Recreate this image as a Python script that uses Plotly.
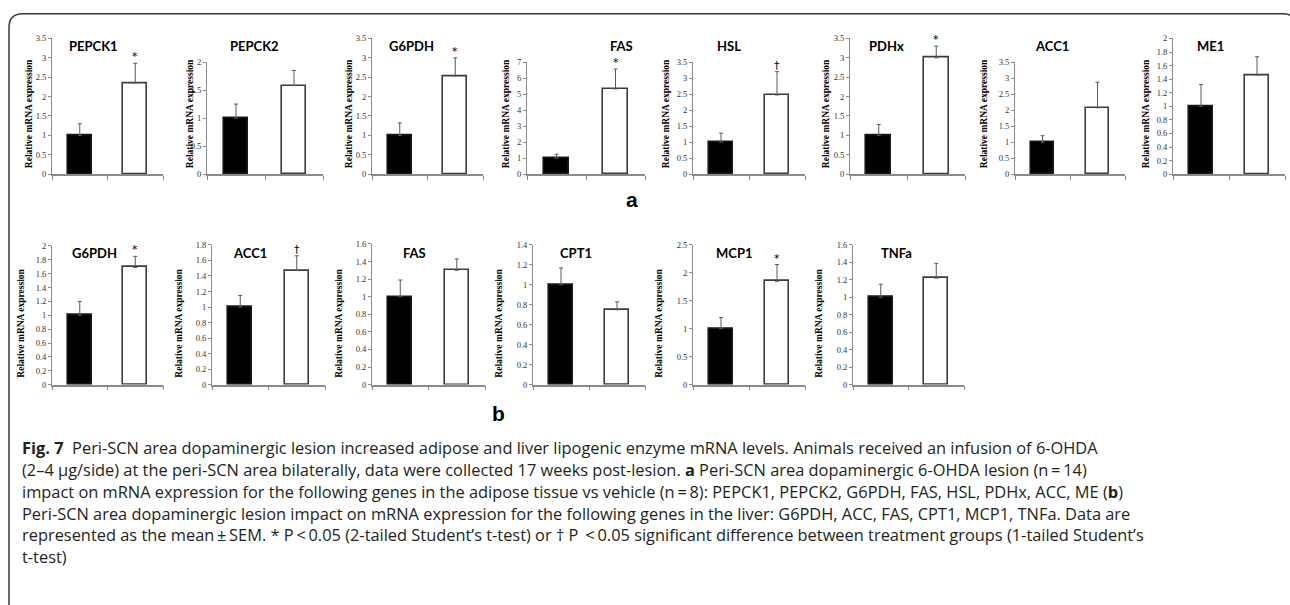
import plotly.graph_objects as go

W, H = 1290, 605

# ---------------- data ----------------
top_genes = ["PEPCK1", "PEPCK2", "G6PDH", "FAS", "HSL", "PDHx", "ACC1", "ME1"]
top_vehicle = [1.0, 1.0, 1.0, 1.0, 1.0, 1.0, 1.0, 1.0]
top_vehicle_sem = [0.30, 0.25, 0.32, 0.25, 0.28, 0.28, 0.20, 0.32]
top_lesion = [2.35, 1.58, 2.53, 5.32, 2.47, 3.00, 2.07, 1.46]
top_lesion_sem = [0.51, 0.27, 0.47, 1.24, 0.73, 0.30, 0.80, 0.27]
top_sig = ["*", "", "*", "*", "†", "*", "", ""]
top_ymax = [3.5, 2, 3.5, 7, 3.5, 3.5, 3.5, 2]
top_dtick = [0.5, 0.5, 0.5, 1, 0.5, 0.5, 0.5, 0.2]

bottom_genes = ["G6PDH", "ACC1", "FAS", "CPT1", "MCP1", "TNFa"]
bottom_vehicle = [1.0, 1.0, 1.0, 1.0, 1.0, 1.0]
bottom_vehicle_sem = [0.20, 0.15, 0.19, 0.17, 0.20, 0.15]
bottom_lesion = [1.69, 1.47, 1.30, 0.75, 1.85, 1.22]
bottom_lesion_sem = [0.16, 0.19, 0.13, 0.08, 0.30, 0.17]
bottom_sig = ["*", "†", "", "", "*", ""]
bottom_ymax = [2, 1.8, 1.6, 1.4, 2.5, 1.6]
bottom_dtick = [0.2, 0.2, 0.2, 0.2, 0.5, 0.2]

y_title = "Relative mRNA expression"

caption_lines = [
    "<b>Fig. 7</b>  Peri-SCN area dopaminergic lesion increased adipose and liver lipogenic enzyme mRNA levels. Animals received an infusion of 6-OHDA",
    "(2–4 µg/side) at the peri-SCN area bilaterally, data were collected 17 weeks post-lesion. <b>a</b> Peri-SCN area dopaminergic 6-OHDA lesion (n\u2009=\u200914)",
    "impact on mRNA expression for the following genes in the adipose tissue vs vehicle (n\u2009=\u20098): PEPCK1, PEPCK2, G6PDH, FAS, HSL, PDHx, ACC, ME (<b>b</b>)",
    "Peri-SCN area dopaminergic lesion impact on mRNA expression for the following genes in the liver: G6PDH, ACC, FAS, CPT1, MCP1, TNFa. Data are",
    "represented as the mean\u2009±\u2009SEM. * P\u2009<\u20090.05 (2-tailed Student’s t-test) or † P \u2009<\u20090.05 significant difference between treatment groups (1-tailed Student’s",
    "t-test)",
]

# ---------------- layout (pixel geometry) ----------------
# x0, x1, top, zero, title_x, ylabel_x
top_geom = [
    (52, 163, 34, 172, 93, 29),
    (207, 323, 58, 172, 254, 190),
    (372, 483, 34, 172, 411, 349),
    (527, 645, 58, 172, 621, 506),
    (693, 805, 58, 172, 729, 666),
    (850, 965, 34, 172, 887, 826),
    (1015, 1125, 58, 172, 1052, 984),
    (1173, 1285, 34, 172, 1210, 1146),
]
bottom_geom = [
    (52, 163, 245, 386, 94, 21),
    (212, 325, 244, 386, 250, 179),
    (372, 485, 243, 386, 414, 339),
    (533, 645, 244, 386, 576, 499),
    (693, 805, 244, 386, 734, 659),
    (853, 964, 244, 386, 896, 819),
]
TOP_TITLE_Y, BOT_TITLE_Y = 42, 252
TOP_LABEL_Y, BOT_LABEL_Y = 111, 324


def px(x):
    return x / W


def py(y):
    return 1 - y / H


fig = go.Figure()
layout = {}
annotations = []

AXIS_COLOR = "#8a8a8a"
TICK_FONT = dict(family="Liberation Serif", size=8.5, color="#333333")

panels = []
for i in range(len(top_genes)):
    panels.append((top_genes[i], top_vehicle[i], top_vehicle_sem[i], top_lesion[i],
                   top_lesion_sem[i], top_sig[i], top_ymax[i], top_dtick[i],
                   top_geom[i], TOP_TITLE_Y, TOP_LABEL_Y))
for i in range(len(bottom_genes)):
    panels.append((bottom_genes[i], bottom_vehicle[i], bottom_vehicle_sem[i], bottom_lesion[i],
                   bottom_lesion_sem[i], bottom_sig[i], bottom_ymax[i], bottom_dtick[i],
                   bottom_geom[i], BOT_TITLE_Y, BOT_LABEL_Y))

for k, (gene, v, vs, l, ls, sig, ymax, dt, geom, ty, ly) in enumerate(panels, start=1):
    x0, x1, top, zero, tx, lx = geom
    xa = "x" if k == 1 else f"x{k}"
    ya = "y" if k == 1 else f"y{k}"
    fig.add_trace(go.Bar(
        x=[0, 1], y=[v, l], xaxis=xa, yaxis=ya, width=0.43,
        marker=dict(color=["#000000", "#ffffff"],
                    line=dict(color=["#1a1a1a", "#3c3c3c"], width=1.6)),
        error_y=dict(type="data", symmetric=False, array=[vs, ls], arrayminus=[0, 0],
                     color="#5a5a5a", thickness=1, width=2),
        showlegend=False, hoverinfo="skip",
    ))
    xkey = "xaxis" if k == 1 else f"xaxis{k}"
    ykey = "yaxis" if k == 1 else f"yaxis{k}"
    layout[xkey] = dict(domain=[px(x0), px(x1)], anchor=ya, range=[-0.5, 1.5],
                        tickmode="array", tickvals=[-0.5, 0.5, 1.5], ticks="outside",
                        ticklen=4, tickcolor=AXIS_COLOR, showticklabels=False,
                        showline=True, linecolor=AXIS_COLOR, linewidth=1.5,
                        showgrid=False, zeroline=False, fixedrange=True)
    layout[ykey] = dict(domain=[py(zero), py(top)], anchor=xa, range=[0, ymax],
                        tick0=0, dtick=dt, ticks="outside", ticklen=3,
                        tickcolor=AXIS_COLOR, showline=True, linecolor=AXIS_COLOR,
                        linewidth=1, showgrid=False, zeroline=False,
                        tickfont=TICK_FONT, fixedrange=True)
    annotations.append(dict(x=px(tx), y=py(ty), xref="paper", yref="paper", text=f"<b>{gene}</b>",
                            showarrow=False, xanchor="center", yanchor="middle",
                            font=dict(family="Lato", size=13, color="#000000")))
    annotations.append(dict(x=px(lx), y=py(ly), xref="paper", yref="paper", text=f"<b>{y_title}</b>",
                            textangle=-90, showarrow=False, xanchor="center", yanchor="middle",
                            font=dict(family="Liberation Serif", size=9.5, color="#000000")))
    if sig:
        annotations.append(dict(x=1, y=l + ls, xref=xa, yref=ya, text=sig, showarrow=False,
                                xanchor="center", yanchor="bottom", yshift=-2,
                                font=dict(family="DejaVu Sans", size=11, color="#000000")))

# panel letters
annotations.append(dict(x=px(632), y=py(198), xref="paper", yref="paper", text="<b>a</b>",
                        showarrow=False, xanchor="center", yanchor="middle",
                        font=dict(family="Liberation Sans", size=21, color="#000000")))
annotations.append(dict(x=px(498), y=py(415), xref="paper", yref="paper", text="<b>b</b>",
                        showarrow=False, xanchor="center", yanchor="middle",
                        font=dict(family="Liberation Sans", size=21, color="#000000")))

# caption
cap_y0, cap_dy = 450, 22.2
for j, line in enumerate(caption_lines):
    annotations.append(dict(x=px(20), y=py(cap_y0 + j * cap_dy), xref="paper", yref="paper",
                            text=line, showarrow=False, xanchor="left", yanchor="middle",
                            align="left",
                            font=dict(family="Open Sans", size=16.4, color="#231f20")))

# rounded frame (right and bottom sides fall outside the picture)
r = 14
L, T, R, B = 9, 9, 1297, 620
path = (f"M {px(L)},{py(B)} L {px(L)},{py(T + r)} Q {px(L)},{py(T)} {px(L + r)},{py(T)} "
        f"L {px(R - r)},{py(T)} Q {px(R)},{py(T)} {px(R)},{py(T + r)} L {px(R)},{py(B)}")
shapes = [dict(type="path", xref="paper", yref="paper", path=path,
               line=dict(color="#3a3a3a", width=1.5))]

fig.update_layout(
    width=W, height=H, margin=dict(l=0, r=0, t=0, b=0),
    paper_bgcolor="white", plot_bgcolor="white",
    annotations=annotations, shapes=shapes, bargap=0, **layout,
)

fig.write_html("out.html", config={"displayModeBar": False},
               post_script="document.body.style.margin='0';document.body.style.overflow='hidden';")
